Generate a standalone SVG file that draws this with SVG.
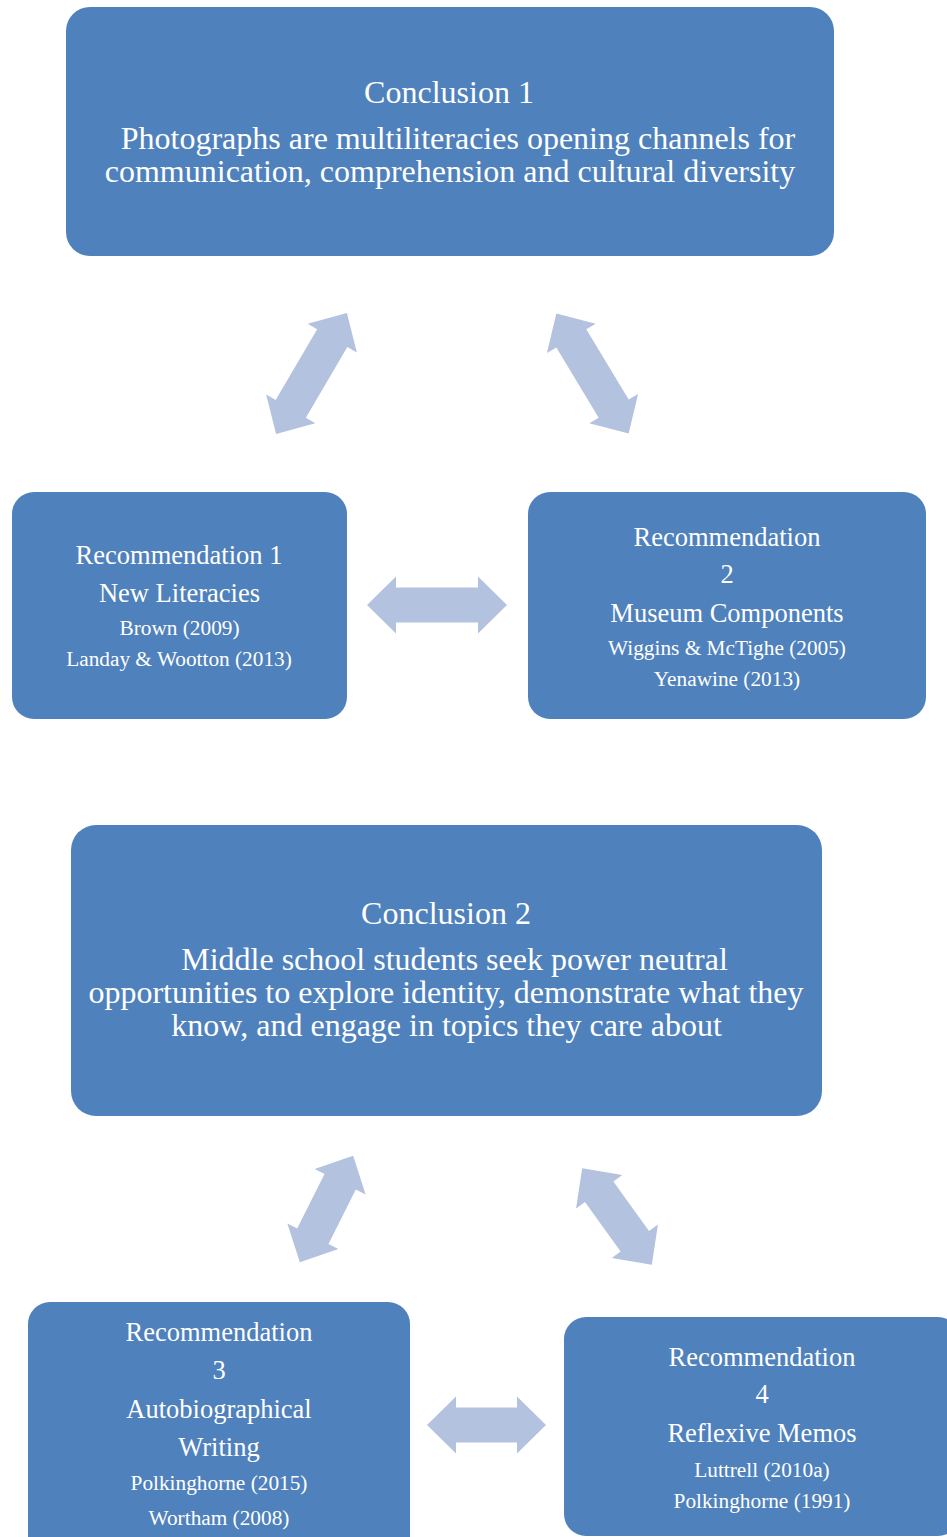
<svg xmlns="http://www.w3.org/2000/svg" xmlns:xlink="http://www.w3.org/1999/xlink" width="947" height="1537" viewBox="0 0 947 1537">
  <style>
    .box { fill: #4F81BD; }
    .arrow { fill: #B3C2DE; }
    text { font-family: "Liberation Serif", "Times New Roman", serif; fill: #FFFFFF; text-anchor: middle; }
    .big { font-size: 32px; }
    .mid { font-size: 26.5px; }
    .ref { font-size: 21.3px; }
  </style>
  <defs>
    <!-- double-headed block arrows, centred on the origin -->
    <path id="dblLong" d="M-70,0 L-41,-28.5 L-41,-17.5 L41,-17.5 L41,-28.5 L70,0 L41,28.5 L41,17.5 L-41,17.5 L-41,28.5 Z"/>
    <path id="dblShort" d="M-59.5,0 L-30.5,-28.5 L-30.5,-17.5 L30.5,-17.5 L30.5,-28.5 L59.5,0 L30.5,28.5 L30.5,17.5 L-30.5,17.5 L-30.5,28.5 Z"/>
  </defs>

  <rect width="947" height="1537" fill="#FFFFFF"/>

  <g id="connectors" class="arrow">
    <use xlink:href="#dblLong" transform="translate(311.5,373.5) rotate(-59.6)"/>
    <use xlink:href="#dblLong" transform="translate(592.5,373.5) rotate(58.9)"/>
    <use xlink:href="#dblLong" transform="translate(437,605)"/>
    <use xlink:href="#dblShort" transform="translate(326.5,1209) rotate(-63.4)"/>
    <use xlink:href="#dblShort" transform="translate(617,1216.5) rotate(54.2)"/>
    <use xlink:href="#dblShort" transform="translate(486.5,1425)"/>
  </g>

  <g id="conclusion1">
    <rect class="box" x="66" y="7" width="768" height="249" rx="24" ry="24"/>
    <text class="big" x="449" y="103">Conclusion 1</text>
    <text class="big" x="458" y="149">Photographs are multiliteracies opening channels for</text>
    <text class="big" x="450" y="182">communication, comprehension and cultural diversity</text>
  </g>

  <g id="recommendation1">
    <rect class="box" x="12" y="492" width="335" height="227" rx="22" ry="22"/>
    <text class="mid" x="179" y="564">Recommendation 1</text>
    <text class="mid" x="179.5" y="602">New Literacies</text>
    <text class="ref" x="179.5" y="635">Brown (2009)</text>
    <text class="ref" x="179" y="666">Landay &amp; Wootton (2013)</text>
  </g>

  <g id="recommendation2">
    <rect class="box" x="528" y="492" width="398" height="227" rx="22" ry="22"/>
    <text class="mid" x="727" y="546">Recommendation</text>
    <text class="mid" x="727" y="583">2</text>
    <text class="mid" x="727" y="622">Museum Components</text>
    <text class="ref" x="727" y="655">Wiggins &amp; McTighe (2005)</text>
    <text class="ref" x="727" y="686">Yenawine (2013)</text>
  </g>

  <g id="conclusion2">
    <rect class="box" x="71" y="825" width="751" height="291" rx="25" ry="25"/>
    <text class="big" x="446" y="924">Conclusion 2</text>
    <text class="big" x="454.5" y="970">Middle school students seek power neutral</text>
    <text class="big" x="446" y="1003">opportunities to explore identity, demonstrate what they</text>
    <text class="big" x="446.5" y="1036">know, and engage in topics they care about</text>
  </g>

  <g id="recommendation3">
    <rect class="box" x="28" y="1302" width="382" height="260" rx="22" ry="22"/>
    <text class="mid" x="219" y="1341">Recommendation</text>
    <text class="mid" x="219" y="1379">3</text>
    <text class="mid" x="219" y="1418">Autobiographical</text>
    <text class="mid" x="219" y="1456">Writing</text>
    <text class="ref" x="219" y="1490">Polkinghorne (2015)</text>
    <text class="ref" x="219" y="1525">Wortham (2008)</text>
  </g>

  <g id="recommendation4">
    <rect class="box" x="564" y="1317" width="396" height="219" rx="22" ry="22"/>
    <text class="mid" x="762" y="1366">Recommendation</text>
    <text class="mid" x="762" y="1403">4</text>
    <text class="mid" x="762" y="1442">Reflexive Memos</text>
    <text class="ref" x="762" y="1477">Luttrell (2010a)</text>
    <text class="ref" x="762" y="1508">Polkinghorne (1991)</text>
  </g>
</svg>
